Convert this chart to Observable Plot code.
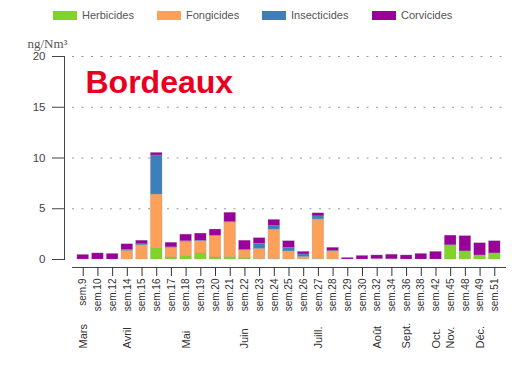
<!DOCTYPE html>
<html><head><meta charset="utf-8">
<script src="https://cdn.jsdelivr.net/npm/d3@7"></script>
<script src="https://cdn.jsdelivr.net/npm/@observablehq/plot@0.6"></script>
<style>
body{margin:0;background:#fff;font-family:"Liberation Sans",Arial,sans-serif;}
#legend{position:relative;height:30px;width:532px;}
.sw{position:absolute;top:11px;width:24px;height:9px;}
.lb{position:absolute;top:8px;font-size:11px;color:#555;line-height:14px;white-space:nowrap;}
#chart svg{display:block;}
</style></head><body>
<div id="legend"></div>
<div id="chart"></div>
<script>
const weeks = ["sem.9","sem.10","sem.12","sem.14","sem.15","sem.16","sem.17","sem.18","sem.19","sem.20","sem.21","sem.22","sem.23","sem.24","sem.25","sem.26","sem.27","sem.28","sem.29","sem.30","sem.32","sem.34","sem.36","sem.38","sem.42","sem.45","sem.48","sem.49","sem.51"];
const months = ["Mars","","","Avril","","","","Mai","","","","Juin","","","","","Juill.","","","","Août","","Sept.","","Oct.","Nov.","","Déc.",""];
const herbicides   = [0,0,0,0,0,1.1,0.2,0.35,0.6,0.2,0.25,0.1,0.05,0.05,0,0,0.05,0,0,0,0,0,0,0,0,1.4,0.8,0.4,0.6];
const fongicides   = [0,0,0,0.85,1.4,5.3,0.95,1.4,1.2,2.1,3.4,0.8,1.0,2.9,0.8,0.25,3.9,0.8,0,0,0.05,0,0,0,0,0,0,0,0];
const insecticides = [0,0,0,0.1,0.1,3.85,0.05,0.05,0.05,0.05,0.05,0.05,0.5,0.35,0.35,0.25,0.3,0.05,0,0,0,0.02,0,0,0,0,0,0,0];
const corvicides   = [0.45,0.6,0.55,0.55,0.35,0.25,0.45,0.65,0.7,0.6,0.9,0.9,0.55,0.6,0.65,0.25,0.3,0.3,0.15,0.35,0.35,0.45,0.4,0.55,0.75,0.95,1.5,1.2,1.2];
const types = ["Herbicides","Fongicides","Insecticides","Corvicides"];
const colors = ["#80d32a","#fca05a","#3c7fbb","#990099"];
const yTicks = [0,5,10,15,20];
const unitLabel = "ng/Nm³";
const title = "Bordeaux";

// legend
const legendSwatchX = [53,157,262,372];
const legend = document.getElementById("legend");
types.forEach((t,i)=>{
  const s=document.createElement("div"); s.className="sw"; s.style.left=legendSwatchX[i]+"px"; s.style.background=colors[i]; legend.appendChild(s);
  const l=document.createElement("div"); l.className="lb"; l.style.left=(legendSwatchX[i]+29)+"px"; l.textContent=t; legend.appendChild(l);
});

const series=[herbicides,fongicides,insecticides,corvicides];
const rows=[];
weeks.forEach((w,i)=>types.forEach((t,j)=>rows.push({week:w,type:t,value:series[j][i]})));
const monthRows = weeks.map((w,i)=>({w,m:months[i]})).filter(d=>d.m);

const plot = Plot.plot({
  width:532, height:360,
  marginTop:26, marginBottom:131, marginLeft:72, marginRight:27,
  x:{domain:weeks, type:"band", paddingInner:0.21, paddingOuter:0.335, round:false, axis:null},
  y:{domain:[0,20], axis:null},
  color:{domain:types, range:colors},
  style:{fontFamily:"'Liberation Sans', Arial, sans-serif", background:"white", overflow:"visible"},
  marks:[
    Plot.gridY(yTicks.filter(d=>d>0), {stroke:"#999", strokeOpacity:1, strokeDasharray:"2,7.5"}),
    Plot.barY(rows, {x:"week", y:"value", fill:"type", order:types, stroke:"#999", strokeWidth:0.5, strokeOpacity:0.5}),
    Plot.axisY(yTicks, {anchor:"left", tickSize:12, tickPadding:7, dx:-8, fontSize:11.5, color:"#444", label:null}),
    Plot.frame({anchor:"left", dx:-8, stroke:"#444"}),
    Plot.frame({anchor:"bottom", dy:8, stroke:"#444"}),
    Plot.axisX(weeks, {anchor:"bottom", tickSize:9, tickPadding:2, dy:8, tickRotate:-90, fontSize:10, color:"#333", label:null}),
    Plot.text(monthRows, {x:"w", text:"m", frameAnchor:"bottom", dy:89, rotate:-90, textAnchor:"start", lineAnchor:"middle", fontSize:11, fill:"#333"}),
    Plot.text([unitLabel], {frameAnchor:"top-left", dx:-45, dy:-9, textAnchor:"start", lineAnchor:"bottom", fontFamily:"'Liberation Serif', serif", fontSize:13, fill:"#555"}),
    Plot.text([title], {frameAnchor:"top-left", dx:13, dy:14, textAnchor:"start", lineAnchor:"top", fontSize:32, fontWeight:"bold", fill:"#e8001e"})
  ]
});
document.getElementById("chart").appendChild(plot);
</script>
</body></html>
